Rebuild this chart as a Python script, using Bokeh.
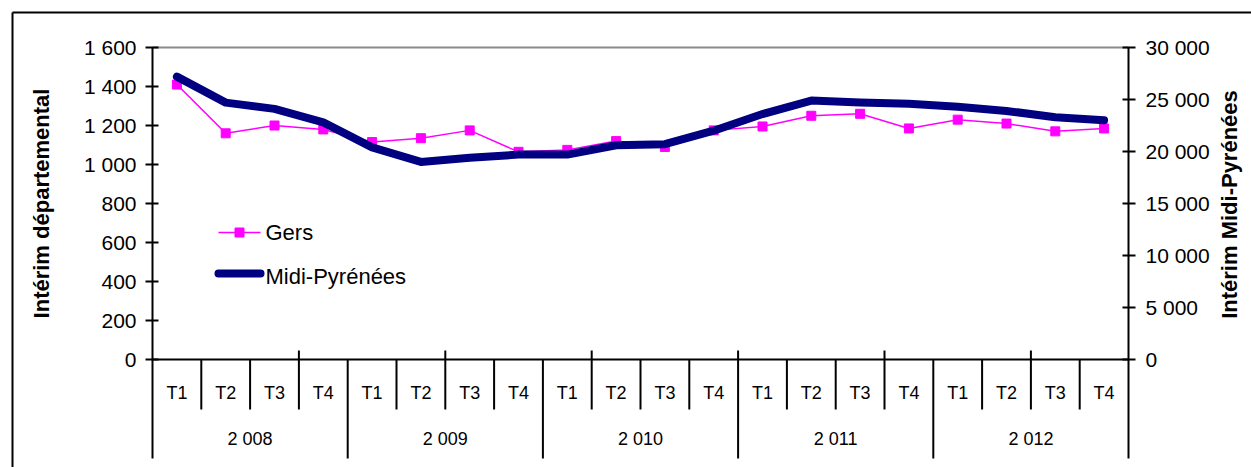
from bokeh.plotting import figure
from bokeh.models import Range1d, LinearAxis, FixedTicker
from bokeh.core.properties import value
from bokeh.embed import file_html
from bokeh.resources import INLINE
import math

# ---------------- data ----------------
years = ["2 008", "2 009", "2 010", "2 011", "2 012"]
quarters = ["T1", "T2", "T3", "T4"]
gers = [1410, 1160, 1200, 1180, 1115, 1135, 1175, 1065, 1075, 1120,
        1090, 1175, 1195, 1250, 1260, 1185, 1230, 1210, 1170, 1185]
midi = [27200, 24700, 24100, 22800, 20400, 19000, 19400, 19700, 19700, 20600,
        20700, 22000, 23600, 24900, 24700, 24600, 24300, 23900, 23300, 23000]
left_ticks = [0, 200, 400, 600, 800, 1000, 1200, 1400, 1600]
left_tick_labels = ["0", "200", "400", "600", "800", "1 000", "1 200", "1 400", "1 600"]
right_ticks = [0, 5000, 10000, 15000, 20000, 25000, 30000]
right_tick_labels = ["0", "5 000", "10 000", "15 000", "20 000", "25 000", "30 000"]
series_names = ["Gers", "Midi-Pyrénées"]
axis_titles = ["Intérim départemental", "Intérim Midi-Pyrénées"]

# ---------------- layout (page pixels) ----------------
W, H, M = 1251, 467, 0
PL, PR, PT, PB = 152, 1128, 47, 359
LMAX, RMAX = 1600, 30000
n = len(years) * len(quarters)
xs = (PR - PL) / n
ky = LMAX / (PB - PT)
ky2 = RMAX / (PB - PT)

def X(px):
    return (px - PL) / xs

def Y(py):
    return (PB - py) * ky

FONT = "Liberation Sans"

p = figure(width=W, height=H, output_backend="svg", toolbar_location=None,
           title=None, x_axis_location=None, y_axis_location=None,
           min_border=0, min_border_left=0, min_border_right=0,
           min_border_top=0, min_border_bottom=0,
           x_range=Range1d(X(M), X(M + W)),
           y_range=Range1d(Y(M + H), Y(M)))
p.extra_y_ranges = {"right": Range1d((PB - (M + H)) * ky2, (PB - M) * ky2)}
p.outline_line_color = None
p.grid.visible = False
p.background_fill_color = "white"
p.border_fill_color = "white"

def style_axis(ax, standoff):
    ax.axis_line_width = 2
    ax.axis_line_color = "black"
    ax.major_tick_line_width = 2
    ax.major_tick_line_color = "black"
    ax.major_tick_in = 6
    ax.major_tick_out = 7
    ax.minor_tick_line_color = None
    ax.major_label_standoff = standoff
    ax.major_label_text_font = FONT
    ax.major_label_text_font_size = "21px"
    ax.major_label_text_color = "black"

left = LinearAxis(fixed_location=0, bounds=(0, LMAX),
                  ticker=FixedTicker(ticks=left_ticks),
                  major_label_overrides={t: l for t, l in zip(left_ticks, left_tick_labels)})
style_axis(left, 9)
p.add_layout(left, "left")

right = LinearAxis(y_range_name="right", fixed_location=n, bounds=(0, RMAX),
                   ticker=FixedTicker(ticks=right_ticks),
                   major_label_overrides={t: l for t, l in zip(right_ticks, right_tick_labels)})
style_axis(right, 10)
p.add_layout(right, "right")

# outer frame lines of the original picture
p.segment(x0=[X(12), X(12)], y0=[Y(12), Y(12)], x1=[X(1260), X(12)], y1=[Y(12), Y(480)],
          line_color="black", line_width=2)

# top border of plot area
p.segment(x0=[0], y0=[LMAX], x1=[n], y1=[LMAX], line_color="#8a8a8a", line_width=2)

# category axis (drawn by hand, Excel style)
p.segment(x0=[0], y0=[0], x1=[n], y1=[0], line_color="black", line_width=2)
up = [k for k in range(3, n, 3)]
p.segment(x0=up, y0=[0] * len(up), x1=up, y1=[Y(350)] * len(up), line_color="black", line_width=2)
qsep = [k for k in range(1, n) if k % len(quarters) != 0]
p.segment(x0=qsep, y0=[0] * len(qsep), x1=qsep, y1=[Y(409)] * len(qsep), line_color="black", line_width=2)
ysep = [k for k in range(0, n + 1, len(quarters))]
p.segment(x0=ysep, y0=[0] * len(ysep), x1=ysep, y1=[Y(458)] * len(ysep), line_color="black", line_width=2)

xc = [i + 0.5 for i in range(n)]
p.text(x=xc, y=[Y(392)] * n, text=quarters * len(years),
       text_font=value(FONT), text_font_size="18px", text_color="black",
       text_align="center", text_baseline="middle")
yc = [len(quarters) * j + len(quarters) / 2 for j in range(len(years))]
p.text(x=yc, y=[Y(438)] * len(years), text=years,
       text_font=value(FONT), text_font_size="18px", text_color="black",
       text_align="center", text_baseline="middle")

# series
p.line(xc, gers, line_color="#ff00ff", line_width=1.5)
p.scatter(xc, gers, marker="square", size=9, fill_color="#ff00ff", line_color="#ff00ff")
p.line(xc, midi, y_range_name="right", line_color="#000080", line_width=8,
       line_join="round", line_cap="round")

# legend (hand drawn)
p.line([X(218), X(260)], [Y(232), Y(232)], line_color="#ff00ff", line_width=1.5)
p.scatter([X(239)], [Y(232)], marker="square", size=9, fill_color="#ff00ff", line_color="#ff00ff")
p.line([X(218), X(260)], [Y(273), Y(273)], line_color="#000080", line_width=8, line_cap="round")
p.text(x=[X(265), X(265)], y=[Y(232), Y(276)], text=series_names,
       text_font=value(FONT), text_font_size="22px", text_color="black",
       text_align="left", text_baseline="middle")

# axis titles
p.text(x=[X(41)], y=[Y(203)], text=[axis_titles[0]], angle=math.pi / 2,
       text_font=value(FONT), text_font_style="bold", text_font_size="22px",
       text_color="black", text_align="center", text_baseline="middle")
p.text(x=[X(1229)], y=[Y(204)], text=[axis_titles[1]], angle=math.pi / 2,
       text_font=value(FONT), text_font_style="bold", text_font_size="22px",
       text_color="black", text_align="center", text_baseline="middle")

open("out.html", "w").write(file_html(p, INLINE))
